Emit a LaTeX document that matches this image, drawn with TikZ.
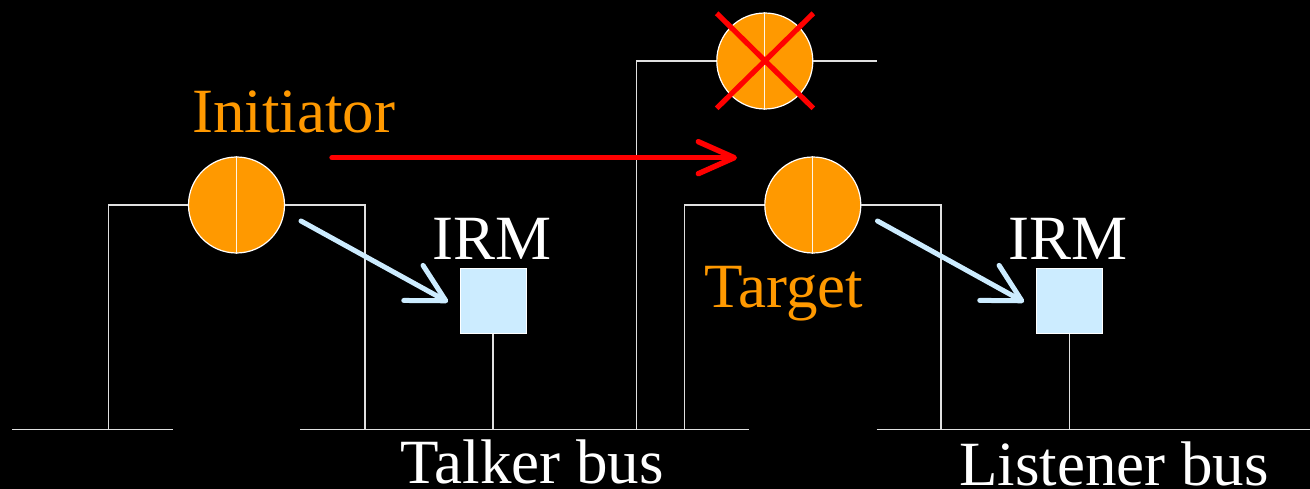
\documentclass[tikz,border=0pt]{standalone}
\usepackage{fontspec}
\setmainfont{Liberation Serif}
\usetikzlibrary{arrows.meta}
\definecolor{devorange}{HTML}{FF9900}
\definecolor{irmblue}{HTML}{CCECFF}
\definecolor{xred}{HTML}{FF0000}
\tikzset{
  wire/.style={draw=white!88!black, line width=1.4pt},
  node3/.style={circle, fill=devorange, draw=white, line width=1.2pt, minimum size=96pt, inner sep=0pt},
  divider/.style={draw=white!90!devorange, line width=1.2pt},
  irmbox/.style={rectangle, fill=irmblue, draw=white, line width=1pt, minimum width=66pt, minimum height=65pt, inner sep=0pt},
  lbl/.style={anchor=base west, inner sep=0pt, font=\fontsize{63}{63}\selectfont},
  bluearrow/.style={draw=irmblue, line width=5pt, line cap=round, -{Straight Barb[length=37pt,width=40pt,round]}},
  redarrow/.style={draw=xred, line width=5.4pt, line cap=round, -{Straight Barb[length=36pt,width=32pt,round]}},
  crossline/.style={draw=xred, line width=5.2pt},
}
\begin{document}
\begin{tikzpicture}[x=1pt,y=-1pt]
\fill[black] (0,0) rectangle (1310,489);
\useasboundingbox (0,0) rectangle (1310,489);

% buses
\coordinate (b1a) at (12,429.3);
\coordinate (b1b) at (172.7,429.3);
\coordinate (b2a) at (300,429.3);
\coordinate (b2b) at (749.3,429.3);
\coordinate (b3a) at (876.7,429.3);
\coordinate (b3b) at (1310,429.3);
\draw[wire] (b1a) -- (b1b);
\draw[wire] (b2a) -- (b2b);
\draw[wire] (b3a) -- (b3b);

% nodes
\node[node3] (init) at (236.5,205) {};
\node[node3] (dead) at (764.8,61) {};
\node[node3] (targ) at (812.8,205) {};
\node[irmbox] (irm1) at (493,301.3) {};
\node[irmbox] (irm2) at (1069.5,301.3) {};

% wires
\coordinate (iL) at (108.3,205);
\coordinate (iR) at (365,205);
\draw[wire] (init.west) -- (iL) -- (iL |- b1a);
\draw[wire] (init.east) -- (iR) -- (iR |- b2a);
\coordinate (dL) at (636.7,61);
\coordinate (dR) at (877,61);
\draw[wire] (dead.west) -- (dL) -- (dL |- b2a);
\draw[wire] (dead.east) -- (dR);
\coordinate (tL) at (684.5,205);
\coordinate (tR) at (941,205);
\draw[wire] (targ.west) -- (tL) -- (tL |- b2a);
\draw[wire] (targ.east) -- (tR) -- (tR |- b3a);
\draw[wire] (irm1.south) -- (irm1.south |- b2a);
\draw[wire] (irm2.south) -- (irm2.south |- b3a);

% dividers
\draw[divider] (init.north) -- (init.south);
\draw[divider] (dead.north) -- (dead.south);
\draw[divider] (targ.north) -- (targ.south);

% cross
\coordinate (x1) at (716.7,13.3);
\coordinate (x2) at (813.3,108.3);
\coordinate (x3) at (813.3,13.3);
\coordinate (x4) at (716.7,108.3);
\draw[crossline] (x1) -- (x2);
\draw[crossline] (x3) -- (x4);

% arrows
\coordinate (ra) at (332,157.7);
\coordinate (rb) at (737,157.7);
\draw[redarrow] (ra) -- (rb);
\coordinate (ba1) at (301,221);
\coordinate (bb1) at (448,302);
\draw[bluearrow] (ba1) -- (bb1);
\coordinate (ba2) at (877.5,221);
\coordinate (bb2) at (1024,302);
\draw[bluearrow] (ba2) -- (bb2);

% labels
\node[lbl, text=devorange] (tinit) at (192,132.3) {Initiator};
\node[lbl, text=white] (tirm1) at (432,260) {IRM};
\node[lbl, text=white] (tirm2) at (1008,260) {IRM};
\node[lbl, text=devorange] (ttarg) at (704,307.3) {Target};
\node[lbl, text=white] (ttalk) at (400.5,483.3) {Talker bus};
\node[lbl, text=white] (tlist) at (959,485) {Listener bus};
\end{tikzpicture}
\end{document}
